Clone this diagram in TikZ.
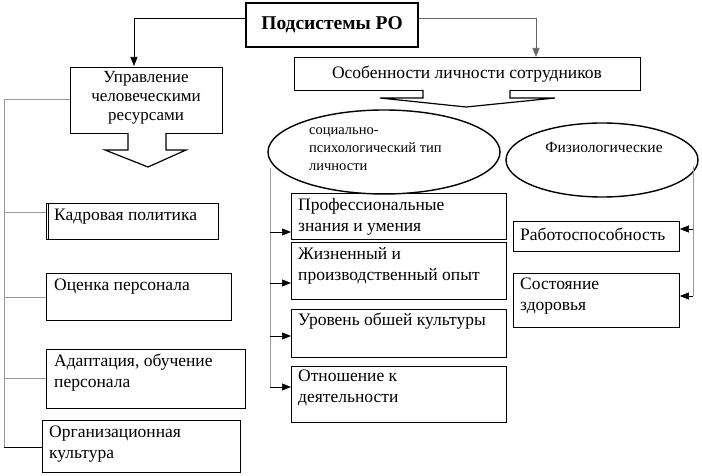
\documentclass[tikz,border=0pt]{standalone}
\usepackage{fontspec}
\setmainfont{Liberation Serif}
\usetikzlibrary{shapes.geometric,arrows.meta,calc}
\begin{document}
\begin{tikzpicture}[x=1pt,y=-1pt,
  box/.style={draw,line width=0.9pt,inner sep=0pt},
  txt/.style={anchor=north west,align=left,inner sep=0pt,font=\fontsize{17.5}{21}\selectfont},
  arr/.style={-{Triangle[length=9pt,width=7pt]},line width=0.6pt},
  gl/.style={draw=gray!80,line width=1pt}]
\useasboundingbox (0,0) rectangle (702,476);
% title
\node[box,line width=2.2pt,minimum width=172,minimum height=44,font=\bfseries\fontsize{19.5}{22}\selectfont] (t) at (332,25) {Подсистемы РО};
\node[box,minimum width=152,minimum height=66] (u) at (146,100) {};
\node[txt,anchor=north,align=center,font=\fontsize{17}{19}\selectfont] at (146,71) {Управление\\человеческими\\ресурсами};
\node[box,minimum width=346,minimum height=33] (o) at (467,73.5) {};
\node[font=\fontsize{17.5}{20}\selectfont] at (467,74) {Особенности личности сотрудников};
\draw[arr] (t.west |- 0,18) -| (134,66) coordinate (ua);
\draw[arr,gray!80!black] (t.east |- 0,18) -| (536,57) coordinate (oa);
% block arrows
\draw[line width=1.2pt,fill=white] (128,133) -- (128,150) -- (105,150) -- (148,167) -- (186,150) -- (166,150) -- (166,133);
\draw[line width=1.2pt,fill=white] (423,90) -- (423,98) -- (380,98) -- (466,107) -- (555,98) -- (510,98) -- (510,90);
% ellipses
\node[draw,ellipse,line width=1.4pt,minimum width=232,minimum height=84] (e1) at (384,152) {};
\node[anchor=north west,align=left,inner sep=0pt,font=\fontsize{14.5}{18}\selectfont] at (309,127) {социально-\\психологический тип\\личности};
\node[draw,ellipse,line width=1.4pt,minimum width=192,minimum height=74] (e2) at (602,160) {};
\node[font=\fontsize{15.5}{17}\selectfont] at (604,148) {Физиологические};
% left column
\node[box,minimum width=172,minimum height=36,anchor=north west] (k) at (46,203) {};
\draw ($(k.north west)+(2,0)$) -- ($(k.south west)+(2,0)$);
\node[txt] at (54,209) {Кадровая политика};
\node[box,minimum width=185,minimum height=47,anchor=north west] (p) at (46,273) {};
\node[txt] at (54,279) {Оценка персонала};
\node[box,minimum width=199,minimum height=59,anchor=north west] (a) at (46,349) {};
\node[txt] at (54,354) {Адаптация, обучение\\персонала};
\node[box,minimum width=198,minimum height=52,anchor=north west] (g) at (42,420) {};
\node[txt] at (49,426) {Организационная\\культура};
\draw[gl] (u.west |- 0,100) -- (4,100) coordinate (lc) -- (4,447) -- (g.west |- 0,447);
\draw[gl] (4,213) -- (k.west |- 0,213);
\draw[gl] (4,297) -- (p.west |- 0,297);
\draw[gl] (4,378) -- (a.west |- 0,378);
\draw[line width=0.8pt] (4,447) -- (g.west |- 0,447);
% middle column
\node[box,minimum width=215,minimum height=46,anchor=north west] (m1) at (291,193) {};
\node[txt] at (298,198) {Профессиональные\\знания и умения};
\node[box,minimum width=215,minimum height=57,anchor=north west] (m2) at (291,242) {};
\node[txt] at (298,247) {Жизненный и\\производственный опыт};
\node[box,minimum width=215,minimum height=48,anchor=north west] (m3) at (291,309) {};
\node[txt] at (298,313) {Уровень обшей культуры};
\node[box,minimum width=215,minimum height=56,anchor=north west] (m4) at (291,366) {};
\node[txt] at (298,370) {Отношение к\\деятельности};
\draw[gl,line width=0.8pt] (270,168) coordinate (mc) -- (270,387);
\foreach \n/\y in {m1/232,m2/283,m3/336,m4/387} \draw[arr] (270,\y) -- (\n.west |- 0,\y);
% right column
\node[box,minimum width=166,minimum height=30,anchor=north west] (r1) at (513,221) {};
\node[txt] at (520,228) {Работоспособность};
\node[box,minimum width=166,minimum height=54,anchor=north west] (r2) at (513,273) {};
\node[txt] at (520,278) {Состояние\\здоровья};
\draw[gl,line width=0.8pt] (693,166) -- (693,296);
\draw[arr] (693,229) -- (r1.east |- 0,229);
\draw[arr] (693,296) -- (r2.east |- 0,296);
\end{tikzpicture}
\end{document}
